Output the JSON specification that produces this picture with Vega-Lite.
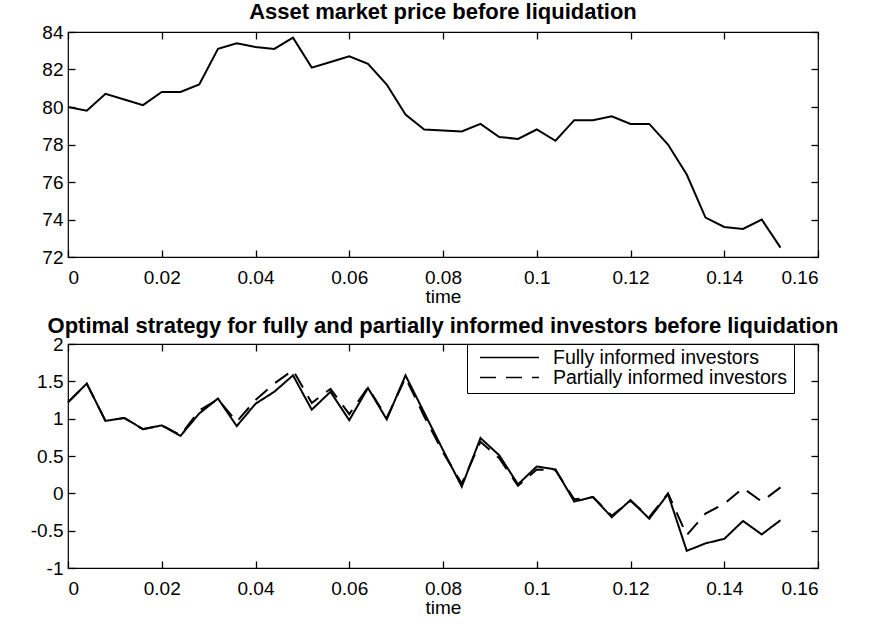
{
  "$schema": "https://vega.github.io/schema/vega-lite/v6.json",
  "background": "white",
  "padding": {"left": 29, "top": 0, "right": 5, "bottom": 5},
  "datasets": {
    "price": [
      {"t": 0, "price": 80.0}, {"t": 0.004, "price": 79.8}, {"t": 0.008, "price": 80.7}, {"t": 0.012, "price": 80.4},
      {"t": 0.016, "price": 80.1}, {"t": 0.02, "price": 80.8}, {"t": 0.024, "price": 80.8}, {"t": 0.028, "price": 81.2},
      {"t": 0.032, "price": 83.1}, {"t": 0.036, "price": 83.4}, {"t": 0.04, "price": 83.2}, {"t": 0.044, "price": 83.1},
      {"t": 0.048, "price": 83.7}, {"t": 0.052, "price": 82.1}, {"t": 0.056, "price": 82.4}, {"t": 0.06, "price": 82.7},
      {"t": 0.064, "price": 82.3}, {"t": 0.068, "price": 81.2}, {"t": 0.072, "price": 79.6}, {"t": 0.076, "price": 78.8},
      {"t": 0.08, "price": 78.75}, {"t": 0.084, "price": 78.7}, {"t": 0.088, "price": 79.1}, {"t": 0.092, "price": 78.4},
      {"t": 0.096, "price": 78.3}, {"t": 0.1, "price": 78.8}, {"t": 0.104, "price": 78.2}, {"t": 0.108, "price": 79.3},
      {"t": 0.112, "price": 79.3}, {"t": 0.116, "price": 79.5}, {"t": 0.12, "price": 79.1}, {"t": 0.124, "price": 79.1},
      {"t": 0.128, "price": 78.0}, {"t": 0.132, "price": 76.4}, {"t": 0.136, "price": 74.1}, {"t": 0.14, "price": 73.6},
      {"t": 0.144, "price": 73.5}, {"t": 0.148, "price": 74.0}, {"t": 0.152, "price": 72.5}
    ],
    "strategy": [
      {"t": 0, "series": "Fully informed investors", "v": 1.22},
      {"t": 0.004, "series": "Fully informed investors", "v": 1.47},
      {"t": 0.008, "series": "Fully informed investors", "v": 0.97},
      {"t": 0.012, "series": "Fully informed investors", "v": 1.01},
      {"t": 0.016, "series": "Fully informed investors", "v": 0.86},
      {"t": 0.02, "series": "Fully informed investors", "v": 0.91},
      {"t": 0.024, "series": "Fully informed investors", "v": 0.77},
      {"t": 0.028, "series": "Fully informed investors", "v": 1.07},
      {"t": 0.032, "series": "Fully informed investors", "v": 1.27},
      {"t": 0.036, "series": "Fully informed investors", "v": 0.90},
      {"t": 0.04, "series": "Fully informed investors", "v": 1.20},
      {"t": 0.044, "series": "Fully informed investors", "v": 1.36},
      {"t": 0.048, "series": "Fully informed investors", "v": 1.58},
      {"t": 0.052, "series": "Fully informed investors", "v": 1.12},
      {"t": 0.056, "series": "Fully informed investors", "v": 1.36},
      {"t": 0.06, "series": "Fully informed investors", "v": 0.98},
      {"t": 0.064, "series": "Fully informed investors", "v": 1.41},
      {"t": 0.068, "series": "Fully informed investors", "v": 0.99},
      {"t": 0.072, "series": "Fully informed investors", "v": 1.58},
      {"t": 0.076, "series": "Fully informed investors", "v": 1.08},
      {"t": 0.08, "series": "Fully informed investors", "v": 0.58},
      {"t": 0.084, "series": "Fully informed investors", "v": 0.09},
      {"t": 0.088, "series": "Fully informed investors", "v": 0.74},
      {"t": 0.092, "series": "Fully informed investors", "v": 0.51},
      {"t": 0.096, "series": "Fully informed investors", "v": 0.12},
      {"t": 0.1, "series": "Fully informed investors", "v": 0.36},
      {"t": 0.104, "series": "Fully informed investors", "v": 0.32},
      {"t": 0.108, "series": "Fully informed investors", "v": -0.11},
      {"t": 0.112, "series": "Fully informed investors", "v": -0.05},
      {"t": 0.116, "series": "Fully informed investors", "v": -0.32},
      {"t": 0.12, "series": "Fully informed investors", "v": -0.09},
      {"t": 0.124, "series": "Fully informed investors", "v": -0.34},
      {"t": 0.128, "series": "Fully informed investors", "v": -0.01},
      {"t": 0.132, "series": "Fully informed investors", "v": -0.77},
      {"t": 0.136, "series": "Fully informed investors", "v": -0.67},
      {"t": 0.14, "series": "Fully informed investors", "v": -0.61},
      {"t": 0.144, "series": "Fully informed investors", "v": -0.37},
      {"t": 0.148, "series": "Fully informed investors", "v": -0.55},
      {"t": 0.152, "series": "Fully informed investors", "v": -0.36},
      {"t": 0, "series": "Partially informed investors", "v": 1.22},
      {"t": 0.004, "series": "Partially informed investors", "v": 1.47},
      {"t": 0.008, "series": "Partially informed investors", "v": 0.97},
      {"t": 0.012, "series": "Partially informed investors", "v": 1.01},
      {"t": 0.016, "series": "Partially informed investors", "v": 0.86},
      {"t": 0.02, "series": "Partially informed investors", "v": 0.91},
      {"t": 0.024, "series": "Partially informed investors", "v": 0.78},
      {"t": 0.028, "series": "Partially informed investors", "v": 1.11},
      {"t": 0.032, "series": "Partially informed investors", "v": 1.26},
      {"t": 0.036, "series": "Partially informed investors", "v": 0.96},
      {"t": 0.04, "series": "Partially informed investors", "v": 1.25},
      {"t": 0.044, "series": "Partially informed investors", "v": 1.47},
      {"t": 0.048, "series": "Partially informed investors", "v": 1.65},
      {"t": 0.052, "series": "Partially informed investors", "v": 1.21},
      {"t": 0.056, "series": "Partially informed investors", "v": 1.40},
      {"t": 0.06, "series": "Partially informed investors", "v": 1.06},
      {"t": 0.064, "series": "Partially informed investors", "v": 1.42},
      {"t": 0.068, "series": "Partially informed investors", "v": 1.01},
      {"t": 0.072, "series": "Partially informed investors", "v": 1.55},
      {"t": 0.076, "series": "Partially informed investors", "v": 1.03},
      {"t": 0.08, "series": "Partially informed investors", "v": 0.55},
      {"t": 0.084, "series": "Partially informed investors", "v": 0.13},
      {"t": 0.088, "series": "Partially informed investors", "v": 0.69},
      {"t": 0.092, "series": "Partially informed investors", "v": 0.47},
      {"t": 0.096, "series": "Partially informed investors", "v": 0.10},
      {"t": 0.1, "series": "Partially informed investors", "v": 0.32},
      {"t": 0.104, "series": "Partially informed investors", "v": 0.31},
      {"t": 0.108, "series": "Partially informed investors", "v": -0.08},
      {"t": 0.112, "series": "Partially informed investors", "v": -0.05},
      {"t": 0.116, "series": "Partially informed investors", "v": -0.30},
      {"t": 0.12, "series": "Partially informed investors", "v": -0.10},
      {"t": 0.124, "series": "Partially informed investors", "v": -0.32},
      {"t": 0.128, "series": "Partially informed investors", "v": 0.00},
      {"t": 0.132, "series": "Partially informed investors", "v": -0.56},
      {"t": 0.136, "series": "Partially informed investors", "v": -0.27},
      {"t": 0.14, "series": "Partially informed investors", "v": -0.14},
      {"t": 0.144, "series": "Partially informed investors", "v": 0.07},
      {"t": 0.148, "series": "Partially informed investors", "v": -0.11},
      {"t": 0.152, "series": "Partially informed investors", "v": 0.08}
    ]
  },
  "vconcat": [
    {
      "width": 750,
      "height": 225,
      "title": {"text": "Asset market price before liquidation"},
      "data": {"name": "price"},
      "layer": [
        {
          "mark": {"type": "line", "color": "black", "strokeWidth": 2},
          "encoding": {
            "x": {"field": "t", "type": "quantitative", "scale": {"domain": [0, 0.16], "nice": false},
                  "axis": {"orient": "bottom", "values": [0, 0.02, 0.04, 0.06, 0.08, 0.1, 0.12, 0.14, 0.16], "format": "~g", "title": "time"}},
            "y": {"field": "price", "type": "quantitative", "scale": {"domain": [72, 84], "nice": false, "zero": false},
                  "axis": {"orient": "left", "values": [72, 74, 76, 78, 80, 82, 84], "title": null}}
          }
        },
        {
          "mark": {"type": "line", "opacity": 0},
          "encoding": {
            "x": {"field": "t", "type": "quantitative", "scale": {"domain": [0, 0.16], "nice": false},
                  "axis": {"orient": "top", "values": [0, 0.02, 0.04, 0.06, 0.08, 0.1, 0.12, 0.14, 0.16], "labels": false, "title": null}},
            "y": {"field": "price", "type": "quantitative", "scale": {"domain": [72, 84], "nice": false, "zero": false},
                  "axis": {"orient": "right", "values": [72, 74, 76, 78, 80, 82, 84], "labels": false, "title": null}}
          }
        }
      ],
      "resolve": {"axis": {"x": "independent", "y": "independent"}}
    },
    {
      "width": 750,
      "height": 224,
      "title": {"text": "Optimal strategy for fully and partially informed investors before liquidation", "offset": -3},
      "data": {"name": "strategy"},
      "layer": [
        {
          "mark": {"type": "line", "color": "black", "strokeWidth": 2},
          "encoding": {
            "x": {"field": "t", "type": "quantitative", "scale": {"domain": [0, 0.16], "nice": false},
                  "axis": {"orient": "bottom", "values": [0, 0.02, 0.04, 0.06, 0.08, 0.1, 0.12, 0.14, 0.16], "format": "~g", "title": "time"}},
            "y": {"field": "v", "type": "quantitative", "scale": {"domain": [-1, 2], "nice": false, "zero": false},
                  "axis": {"orient": "left", "values": [-1, -0.5, 0, 0.5, 1, 1.5, 2], "format": "~g", "labelExpr": "replace(datum.label, '\u2212', '-')", "title": null}},
            "strokeDash": {"field": "series", "type": "nominal",
                  "scale": {"domain": ["Fully informed investors", "Partially informed investors"], "range": [[1, 0], [16, 10]]},
                  "legend": {"title": null, "orient": "none", "legendX": 399, "legendY": 312, "symbolType": "stroke", "symbolSize": 3481,
                             "symbolStrokeWidth": 1.6, "symbolStrokeColor": "black", "strokeColor": "black", "fillColor": "white",
                             "padding": 6, "symbolOffset": 6, "labelFontSize": 19.5, "labelFont": "Liberation Sans", "labelColor": "black", "labelOffset": 13,
                             "labelLimit": 400, "clipHeight": 15, "rowPadding": 0}}
          }
        },
        {
          "mark": {"type": "line", "opacity": 0},
          "encoding": {
            "x": {"field": "t", "type": "quantitative", "scale": {"domain": [0, 0.16], "nice": false},
                  "axis": {"orient": "top", "values": [0, 0.02, 0.04, 0.06, 0.08, 0.1, 0.12, 0.14, 0.16], "labels": false, "title": null}},
            "y": {"field": "v", "type": "quantitative", "scale": {"domain": [-1, 2], "nice": false, "zero": false},
                  "axis": {"orient": "right", "values": [-1, -0.5, 0, 0.5, 1, 1.5, 2], "labels": false, "title": null}},
            "detail": {"field": "series", "type": "nominal"}
          }
        }
      ],
      "resolve": {"axis": {"x": "independent", "y": "independent"}}
    }
  ],
  "spacing": 7,
  "config": {
    "view": {"stroke": "black", "strokeWidth": 1.2},
    "axis": {
      "grid": false, "domain": false, "offset": -7, "ticks": true, "tickColor": "black", "tickOpacity": 1, "tickWidth": 1.3, "tickSize": 7,
      "labelColor": "black", "titleColor": "black", "labelFont": "Liberation Sans", "titleFont": "Liberation Sans",
      "labelFontSize": 19, "titleFontSize": 19, "titleFontWeight": "normal", "titlePadding": 0
    },
    "axisX": {"labelPadding": 11},
    "axisY": {"labelPadding": 5},
    "title": {"font": "Liberation Sans", "fontSize": 22, "fontWeight": "bold", "color": "black", "offset": -1}
  }
}
